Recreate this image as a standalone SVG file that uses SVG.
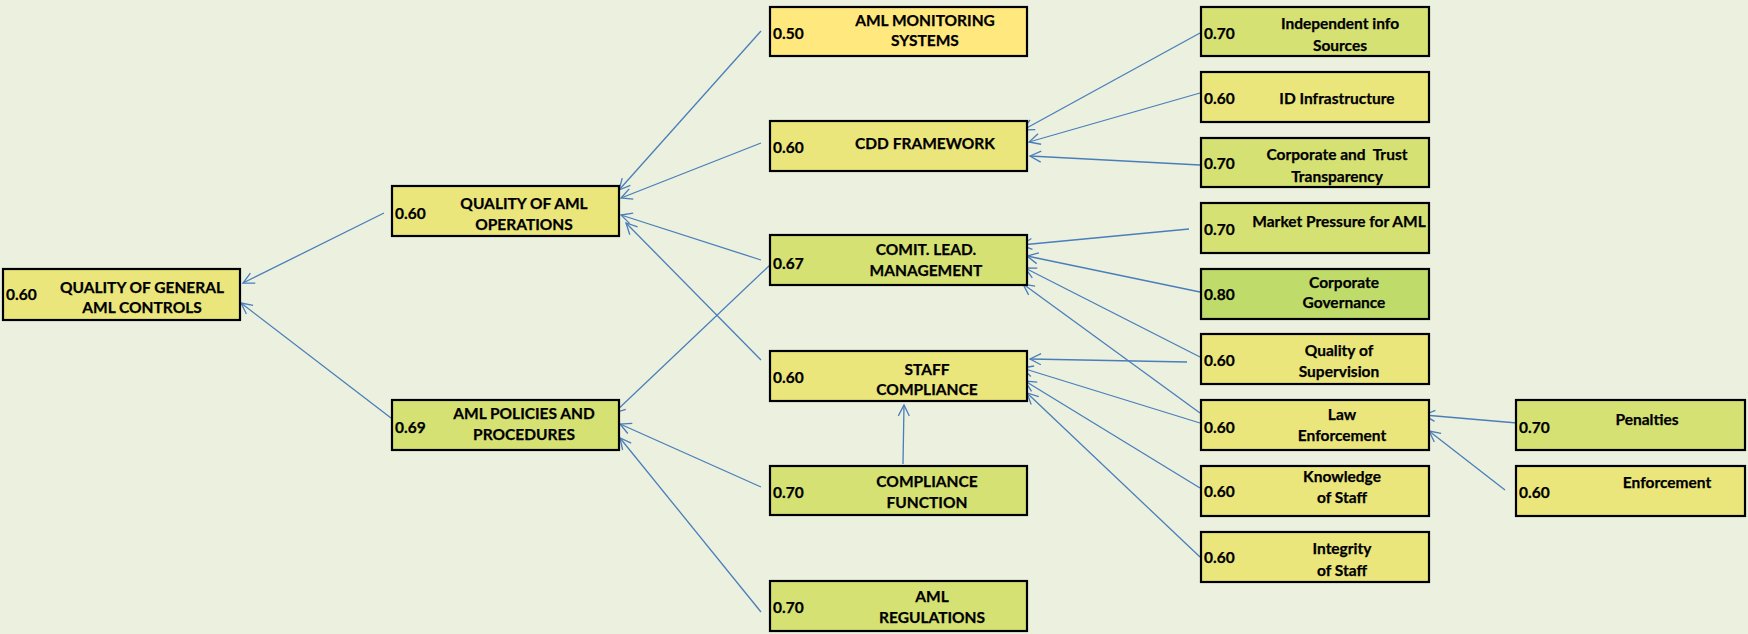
<svg xmlns="http://www.w3.org/2000/svg" width="1748" height="634" viewBox="0 0 1748 634">
<style>
.bg{fill:#EBF1DE}
rect.n{stroke:#000;stroke-width:2.2}
.y{fill:#EBE67C}
.g{fill:#D6E174}
.o{fill:#FFE97F}
.d{fill:#BFDC6A}
text{font-family:Lato,"Liberation Sans",sans-serif;font-weight:bold;font-size:15.5px;fill:#000;stroke:#000;stroke-width:0.25}
.c{text-anchor:middle}
#edges line{stroke:#4A7EBB;stroke-width:1.3;fill:none;marker-end:url(#ah)}
</style>
<defs>
<marker id="ah" markerUnits="userSpaceOnUse" markerWidth="14" markerHeight="14" viewBox="0 0 14 14" refX="12" refY="7" orient="auto">
<path d="M1,1.5 L12,7 L1,12.5" fill="none" stroke="#4A7EBB" stroke-width="1.3"/>
</marker>
</defs>
<rect class="bg" x="0" y="0" width="1748" height="634"/>

<g id="edges">
<line x1="384" y1="213" x2="243" y2="283"/>
<line x1="391" y1="418" x2="241" y2="303"/>
<line x1="761" y1="31" x2="619" y2="190"/>
<line x1="761" y1="143" x2="621" y2="198"/>
<line x1="761" y1="260" x2="621" y2="215"/>
<line x1="761" y1="360" x2="626" y2="223"/>
<line x1="770" y1="265" x2="614" y2="413"/>
<line x1="761" y1="487" x2="620" y2="424"/>
<line x1="761" y1="612" x2="620" y2="438"/>
<line x1="903" y1="464" x2="904" y2="405"/>
<line x1="1200" y1="33" x2="1023" y2="130"/>
<line x1="1200" y1="93" x2="1029" y2="142"/>
<line x1="1200" y1="165" x2="1030" y2="156"/>
<line x1="1189" y1="229" x2="1021" y2="245"/>
<line x1="1200" y1="292" x2="1027" y2="256"/>
<line x1="1200" y1="357" x2="1025" y2="268"/>
<line x1="1200" y1="413" x2="1023" y2="284"/>
<line x1="1187" y1="362" x2="1030" y2="359"/>
<line x1="1200" y1="423" x2="1022" y2="368"/>
<line x1="1200" y1="488" x2="1025" y2="381"/>
<line x1="1200" y1="557" x2="1027" y2="393"/>
<line x1="1517" y1="423" x2="1424" y2="415"/>
<line x1="1505" y1="490" x2="1429" y2="431"/>
</g>

<g id="n-root">
<rect class="n y" x="3" y="269" width="237" height="51"/>
<text x="6" y="299.5">0.60</text>
<text class="c" x="142" y="292.5">QUALITY OF GENERAL</text>
<text class="c" x="142" y="312.5">AML CONTROLS</text>
</g>
<g id="n-qaml">
<rect class="n y" x="392" y="186" width="227" height="50"/>
<text x="395" y="218.5">0.60</text>
<text class="c" x="524" y="208.5">QUALITY OF AML</text>
<text class="c" x="524" y="229.5">OPERATIONS</text>
</g>
<g id="n-policies">
<rect class="n g" x="392" y="400" width="227" height="50"/>
<text x="395" y="432.5">0.69</text>
<text class="c" x="524" y="418.5">AML POLICIES AND</text>
<text class="c" x="524" y="439.5">PROCEDURES</text>
</g>
<g id="n-monitoring">
<rect class="n o" x="770" y="7" width="257" height="49"/>
<text x="773" y="38.5">0.50</text>
<text class="c" x="925" y="25.5">AML MONITORING</text>
<text class="c" x="925" y="45.5">SYSTEMS</text>
</g>
<g id="n-cdd">
<rect class="n y" x="770" y="121" width="257" height="50"/>
<text x="773" y="152.5">0.60</text>
<text class="c" x="925" y="148.5">CDD FRAMEWORK</text>
</g>
<g id="n-comit">
<rect class="n g" x="770" y="235" width="257" height="50"/>
<text x="773" y="268.5">0.67</text>
<text class="c" x="926" y="254.5">COMIT. LEAD.</text>
<text class="c" x="926" y="275.5">MANAGEMENT</text>
</g>
<g id="n-staff">
<rect class="n y" x="770" y="351" width="257" height="50"/>
<text x="773" y="382.5">0.60</text>
<text class="c" x="927" y="374.5">STAFF</text>
<text class="c" x="927" y="394.5">COMPLIANCE</text>
</g>
<g id="n-compfunc">
<rect class="n g" x="770" y="466" width="257" height="49"/>
<text x="773" y="497.5">0.70</text>
<text class="c" x="927" y="486.5">COMPLIANCE</text>
<text class="c" x="927" y="507.5">FUNCTION</text>
</g>
<g id="n-regulations">
<rect class="n g" x="770" y="581" width="257" height="50"/>
<text x="773" y="612.5">0.70</text>
<text class="c" x="932" y="601.5">AML</text>
<text class="c" x="932" y="622.5">REGULATIONS</text>
</g>
<g id="n-independent">
<rect class="n g" x="1201" y="7" width="228" height="49"/>
<text x="1204" y="38.5">0.70</text>
<text class="c" x="1340" y="28.5">Independent info</text>
<text class="c" x="1340" y="50.5">Sources</text>
</g>
<g id="n-id">
<rect class="n y" x="1201" y="72" width="228" height="50"/>
<text x="1204" y="103.5">0.60</text>
<text class="c" x="1337" y="103.5">ID Infrastructure</text>
</g>
<g id="n-corptrust">
<rect class="n g" x="1201" y="138" width="228" height="49"/>
<text x="1204" y="168.5">0.70</text>
<text class="c" x="1337" y="159.5" xml:space="preserve">Corporate and  Trust</text>
<text class="c" x="1337" y="181.5">Transparency</text>
</g>
<g id="n-market">
<rect class="n g" x="1201" y="203" width="228" height="50"/>
<text x="1204" y="234.5">0.70</text>
<text class="c" x="1339" y="226.5">Market Pressure for AML</text>
</g>
<g id="n-corpgov">
<rect class="n d" x="1201" y="269" width="228" height="50"/>
<text x="1204" y="299.5">0.80</text>
<text class="c" x="1344" y="287.5">Corporate</text>
<text class="c" x="1344" y="307.5">Governance</text>
</g>
<g id="n-supervision">
<rect class="n y" x="1201" y="334" width="228" height="50"/>
<text x="1204" y="365.5">0.60</text>
<text class="c" x="1339" y="355.5">Quality of</text>
<text class="c" x="1339" y="376.5">Supervision</text>
</g>
<g id="n-law">
<rect class="n y" x="1201" y="400" width="228" height="50"/>
<text x="1204" y="432.5">0.60</text>
<text class="c" x="1342" y="419.5">Law</text>
<text class="c" x="1342" y="440.5">Enforcement</text>
</g>
<g id="n-knowledge">
<rect class="n y" x="1201" y="466" width="228" height="50"/>
<text x="1204" y="496.5">0.60</text>
<text class="c" x="1342" y="481.5">Knowledge</text>
<text class="c" x="1342" y="502.5">of Staff</text>
</g>
<g id="n-integrity">
<rect class="n y" x="1201" y="532" width="228" height="50"/>
<text x="1204" y="562.5">0.60</text>
<text class="c" x="1342" y="553.5">Integrity</text>
<text class="c" x="1342" y="575.5">of Staff</text>
</g>
<g id="n-penalties">
<rect class="n g" x="1516" y="400" width="229" height="50"/>
<text x="1519" y="432.5">0.70</text>
<text class="c" x="1647" y="424.5">Penalties</text>
</g>
<g id="n-enforcement">
<rect class="n y" x="1516" y="466" width="229" height="50"/>
<text x="1519" y="497.5">0.60</text>
<text class="c" x="1667" y="487.5">Enforcement</text>
</g>
</svg>
